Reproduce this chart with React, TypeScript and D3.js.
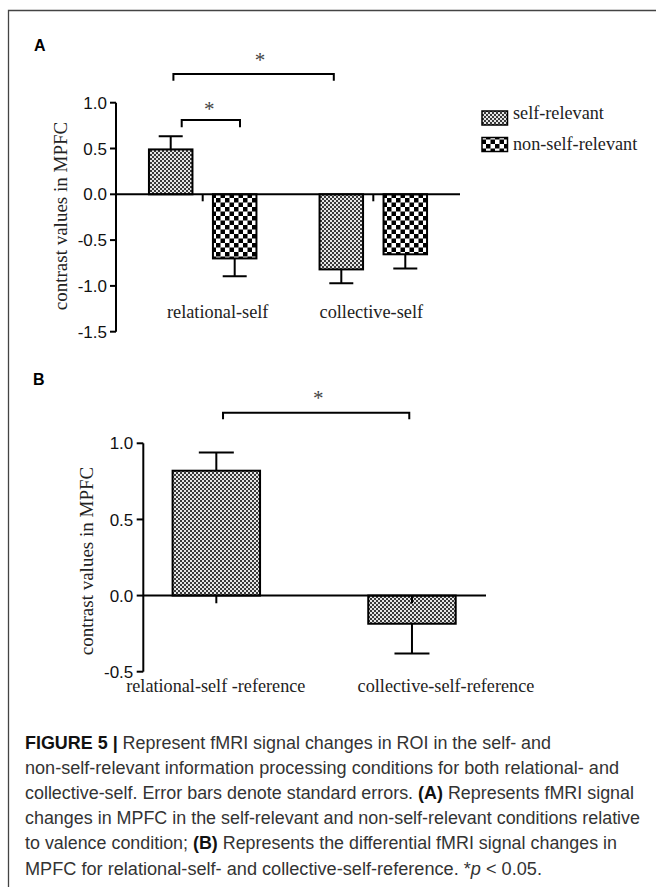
import React from "react";
import * as d3 from "d3";

// panel A data
const groupsA = ["relational-self", "collective-self"];
const seriesA = ["self-relevant", "non-self-relevant"];
const selfRelevantMeans = [0.49, -0.82];
const selfRelevantSE = [0.145, 0.15];
const nonSelfMeans = [-0.7, -0.655];
const nonSelfSE = [0.195, 0.155];
const ticksA = [1.0, 0.5, 0.0, -0.5, -1.0, -1.5];

// panel B data
const groupsB = ["relational-self -reference", "collective-self-reference"];
const meansB = [0.82, -0.185];
const seB = [0.12, 0.195];
const ticksB = [1.0, 0.5, 0.0, -0.5];

const captionLines = [
  "FIGURE 5 | Represent fMRI signal changes in ROI in the self- and",
  "non-self-relevant information processing conditions for both relational- and",
  "collective-self. Error bars denote standard errors. (A) Represents fMRI signal",
  "changes in MPFC in the self-relevant and non-self-relevant conditions relative",
  "to valence condition; (B) Represents the differential fMRI signal changes in",
  "MPFC for relational-self- and collective-self-reference. *p < 0.05.",
];

const fmt = d3
  .formatLocale({ decimal: ".", thousands: ",", grouping: [3], currency: ["", ""], minus: "-" })
  .format(".1f");

const SERIF = "'Liberation Serif', 'Times New Roman', serif";
const SANS = "'Liberation Sans', Arial, sans-serif";

// caption: split out bold and italic runs
function captionRuns(line: string) {
  const parts: { t: string; b?: boolean; i?: boolean }[] = [];
  const re = /(FIGURE 5 \||\(A\)|\(B\)|p(?= <))/g;
  let last = 0;
  let m;
  while ((m = re.exec(line))) {
    if (m.index > last) parts.push({ t: line.slice(last, m.index) });
    if (m[0] === "p") parts.push({ t: "p", i: true });
    else parts.push({ t: m[0], b: true });
    last = m.index + m[0].length;
  }
  if (last < line.length) parts.push({ t: line.slice(last) });
  return parts;
}

export default function App() {
  // ---- panel A scales
  const yA = d3.scaleLinear().domain([-1.5, 1.0]).range([331.7, 102.7]);
  const xA = d3.scalePoint().domain(groupsA).range([202.7, 373.3]);
  const innerA = d3.scaleBand().domain(seriesA).range([-53.75, 53.75]).paddingInner(0.32);
  const axisXA = 116;

  const barsA = groupsA.flatMap((g, i) => [
    { g, s: seriesA[0], v: selfRelevantMeans[i], e: selfRelevantSE[i] },
    { g, s: seriesA[1], v: nonSelfMeans[i], e: nonSelfSE[i] },
  ]);
  const bxA = (d: any) => xA(d.g)! + innerA(d.s)!;
  const bwA = innerA.bandwidth();
  const cA = (g: string, s: string) => xA(g)! + innerA(s)! + bwA / 2;

  // ---- panel B scales
  const yB = d3.scaleLinear().domain([-0.5, 1.0]).range([671.7, 443.3]);
  const xB = d3.scaleBand().domain(groupsB).range([158.9, 469.4]).paddingInner(0.553).paddingOuter(0.07);
  const axisXB = 143.3;
  const bwB = xB.bandwidth();
  const cB = (g: string) => xB(g)! + bwB / 2;

  const fillFor = (s: string) => (s === seriesA[0] ? "url(#fine)" : "url(#coarse)");

  const errPath = (cx: number, y0: number, y1: number, half: number) =>
    `M${cx},${y0}V${y1}M${cx - half},${y1}H${cx + half}`;

  const bracket = (x0: number, x1: number, y: number, drop: number) =>
    `M${x0},${y + drop}V${y}H${x1}V${y + drop}`;

  const labelNudgeA = [15, -2];
  const labelNudgeB = [-0.5, 34];

  const captionLens = [526, 594, 609, 615, 592, 517];

  return (
    <svg width={657} height={887} style={{ position: "absolute", left: 0, top: 0, background: "#fff" }}>
      <defs>
        <pattern id="fine" width={4} height={4} patternUnits="userSpaceOnUse">
          <rect width={4} height={4} fill="#e6e6e6" />
          <rect width={2} height={2} fill="#3a3a3a" />
          <rect x={2} y={2} width={2} height={2} fill="#3a3a3a" />
        </pattern>
        <pattern id="coarse" width={9} height={9} patternUnits="userSpaceOnUse">
          <rect width={9} height={9} fill="#fff" />
          <rect width={4.5} height={4.5} fill="#000" />
          <rect x={4.5} y={4.5} width={4.5} height={4.5} fill="#000" />
        </pattern>
      </defs>

      {/* frame */}
      <path d="M8.5,887V10.5H656" fill="none" stroke="#444" strokeWidth={1.3} />

      {/* ===== Panel A ===== */}
      <text x={34} y={51} fontFamily={SANS} fontWeight="bold" fontSize={16} fill="#000">A</text>

      {/* axis */}
      <line x1={axisXA} x2={axisXA} y1={yA(1.0)} y2={yA(-1.5)} stroke="#000" strokeWidth={2} />
      {ticksA.map((t) => (
        <g key={t}>
          <line x1={axisXA - 6} x2={axisXA} y1={yA(t)} y2={yA(t)} stroke="#000" strokeWidth={2} />
          <text x={axisXA - 9} y={yA(t)} dy="0.36em" textAnchor="end" fontFamily={SANS} fontSize={17} fill="#111">
            {fmt(t)}
          </text>
        </g>
      ))}
      <text
        transform={`translate(67,216) rotate(-90)`}
        textAnchor="middle"
        fontFamily={SERIF}
        fontSize={19}
        fill="#222"
      >
        contrast values in MPFC
      </text>

      {/* bars */}
      {barsA.map((d, i) => {
        const x = bxA(d);
        const top = Math.min(yA(d.v), yA(0));
        const h = Math.abs(yA(d.v) - yA(0));
        const cx = x + bwA / 2;
        const end = yA(d.v + (d.v >= 0 ? d.e : -d.e));
        return (
          <g key={i}>
            <path d={errPath(cx, yA(d.v), end, 12)} stroke="#000" strokeWidth={2} fill="none" />
            <rect x={x} y={top} width={bwA} height={h} fill={fillFor(d.s)} stroke="#000" strokeWidth={2} />
          </g>
        );
      })}
      {/* zero line + group ticks */}
      <line x1={axisXA} x2={460} y1={yA(0)} y2={yA(0)} stroke="#000" strokeWidth={2} />
      {groupsA.map((g) => (
        <line key={g} x1={xA(g)!} x2={xA(g)!} y1={yA(0)} y2={yA(0) + 7} stroke="#000" strokeWidth={2} />
      ))}
      {groupsA.map((g, i) => (
        <text key={g} x={xA(g)! + labelNudgeA[i]} y={318.3} textAnchor="middle" fontFamily={SERIF} fontSize={18.3} fill="#222">
          {g}
        </text>
      ))}

      {/* significance */}
      <path
        d={bracket(cA(groupsA[0], seriesA[0]) + 2.7, cA(groupsA[1], seriesA[0]) - 7.5, 74, 6.7)}
        fill="none"
        stroke="#000"
        strokeWidth={2}
      />
      <text x={260} y={67} textAnchor="middle" fontFamily={SERIF} fontSize={21} fill="#444">*</text>
      <path
        d={bracket(cA(groupsA[0], seriesA[0]) + 11, cA(groupsA[0], seriesA[1]) + 5.3, 120, 7.3)}
        fill="none"
        stroke="#000"
        strokeWidth={2}
      />
      <text x={209.3} y={116} textAnchor="middle" fontFamily={SERIF} fontSize={21} fill="#444">*</text>

      {/* legend */}
      {seriesA.map((s, i) => (
        <g key={s}>
          <rect x={482} y={111 + i * 26.5} width={25.5} height={14} fill={fillFor(s)} stroke="#000" strokeWidth={1.5} />
          <text x={513} y={118.7 + i * 31.3} fontFamily={SERIF} fontSize={18.2} fill="#222">
            {s}
          </text>
        </g>
      ))}

      {/* ===== Panel B ===== */}
      <text x={33} y={384.5} fontFamily={SANS} fontWeight="bold" fontSize={16} fill="#000">B</text>

      <line x1={axisXB} x2={axisXB} y1={yB(1.0)} y2={yB(-0.5)} stroke="#000" strokeWidth={2} />
      {ticksB.map((t) => (
        <g key={t}>
          <line x1={axisXB - 6.6} x2={axisXB} y1={yB(t)} y2={yB(t)} stroke="#000" strokeWidth={2} />
          <text x={axisXB - 10} y={yB(t)} dy="0.36em" textAnchor="end" fontFamily={SANS} fontSize={17} fill="#111">
            {fmt(t)}
          </text>
        </g>
      ))}
      <text
        transform={`translate(93,561) rotate(-90)`}
        textAnchor="middle"
        fontFamily={SERIF}
        fontSize={19}
        fill="#222"
      >
        contrast values in MPFC
      </text>

      {groupsB.map((g, i) => {
        const v = meansB[i];
        const x = xB(g)!;
        const cx = cB(g);
        const end = yB(v + (v >= 0 ? seB[i] : -seB[i]));
        return (
          <g key={g}>
            <path d={errPath(cx, yB(v), end, 17.5)} stroke="#000" strokeWidth={2} fill="none" />
            <rect
              x={x}
              y={Math.min(yB(v), yB(0))}
              width={bwB}
              height={Math.abs(yB(v) - yB(0))}
              fill="url(#fine)"
              stroke="#000"
              strokeWidth={2}
            />
          </g>
        );
      })}
      <line x1={axisXB} x2={486} y1={yB(0)} y2={yB(0)} stroke="#000" strokeWidth={2} />
      {groupsB.map((g) => (
        <line key={g} x1={cB(g)} x2={cB(g)} y1={yB(0)} y2={yB(0) + 7.7} stroke="#000" strokeWidth={2} />
      ))}
      {groupsB.map((g, i) => (
        <text
          key={g}
          x={cB(g) + labelNudgeB[i]}
          y={691.5}
          textAnchor="middle"
          fontFamily={SERIF}
          fontSize={18.2}
          fill="#222"
        >
          {g}
        </text>
      ))}
      <path d={bracket(cB(groupsB[0]) + 6.7, cB(groupsB[1]) - 2.7, 412.7, 6.6)} fill="none" stroke="#000" strokeWidth={2} />
      <text x={318.3} y={405} textAnchor="middle" fontFamily={SERIF} fontSize={21} fill="#444">*</text>

      {/* ===== Caption ===== */}
      {captionLines.map((line, i) => (
        <text
          key={i}
          x={25}
          y={749 + i * 25.1}
          fontFamily={SANS}
          fontSize={17.5}
          fill="#333"
          textLength={captionLens[i]}
          lengthAdjust="spacingAndGlyphs"
        >
          {captionRuns(line).map((r, j) => (
            <tspan key={j} fontWeight={r.b ? "bold" : undefined} fontStyle={r.i ? "italic" : undefined} fill={r.b ? "#111" : undefined}>
              {r.t}
            </tspan>
          ))}
        </text>
      ))}
    </svg>
  );
}
